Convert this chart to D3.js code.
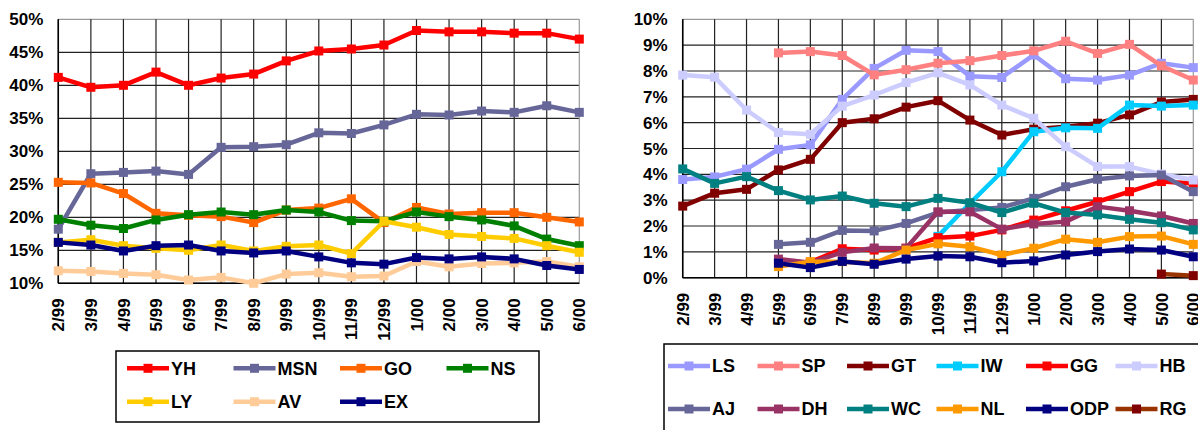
<!DOCTYPE html>
<html><head><meta charset="utf-8">
<script src="https://cdn.jsdelivr.net/npm/d3@7"></script>
<style>
html,body{margin:0;padding:0;background:#fff;}
svg text{font-family:"Liberation Sans",Arial,sans-serif;font-weight:bold;fill:#000;}
</style></head>
<body>
<svg id="chart" width="1198" height="430"></svg>
<script>
const categories = ["2/99","3/99","4/99","5/99","6/99","7/99","8/99","9/99","10/99","11/99","12/99","1/00","2/00","3/00","4/00","5/00","6/00"];

// Left chart series (%)
const YH  = [41.2,39.7,40.0,42.0,40.0,41.1,41.7,43.7,45.2,45.5,46.1,48.3,48.1,48.1,47.9,47.9,47.0];
const MSN = [18.2,26.6,26.8,27.0,26.5,30.6,30.7,31.0,32.8,32.7,34.0,35.6,35.5,36.1,35.9,36.9,35.9];
const GO  = [25.3,25.2,23.6,20.6,20.3,20.1,19.2,21.1,21.4,22.8,19.2,21.5,20.5,20.7,20.7,20.0,19.3];
const NS  = [19.7,18.8,18.3,19.6,20.4,20.8,20.4,21.1,20.8,19.5,19.4,20.8,20.1,19.6,18.7,16.7,15.7];
const LY  = [16.2,16.6,15.7,15.3,15.0,15.8,14.9,15.6,15.8,14.5,19.4,18.5,17.4,17.1,16.8,15.7,14.7];
const AV  = [11.9,11.8,11.5,11.3,10.5,10.9,10.0,11.4,11.6,11.0,11.1,13.3,12.5,13.0,13.1,13.3,12.5];
const EX  = [16.2,15.8,14.9,15.7,15.8,14.9,14.6,14.9,14.0,13.1,12.9,13.9,13.7,14.0,13.7,12.7,12.1];
const leftNames  = ["YH","MSN","GO","NS","LY","AV","EX"];
const leftColors = ["#FF0000","#666699","#FF6600","#008000","#FFCC00","#FFCC99","#000080"];
const leftTicks  = [10,15,20,25,30,35,40,45,50];

// Right chart series (%)
const LS  = [3.8,3.9,4.2,4.97,5.14,6.9,8.1,8.8,8.75,7.8,7.75,8.62,7.7,7.65,7.84,8.3,8.13];
const SP  = [null,null,null,8.7,8.75,8.6,7.85,8.05,8.3,8.4,8.6,8.78,9.15,8.68,9.03,8.2,7.65];
const GT  = [2.77,3.27,3.42,4.17,4.58,6.0,6.15,6.6,6.85,6.1,5.52,5.75,5.84,5.98,6.3,6.8,6.9];
const IW  = [null,null,null,null,null,null,null,null,1.6,2.88,4.1,5.65,5.8,5.78,6.68,6.64,6.68];
const GG  = [null,null,null,null,0.6,1.12,1.07,1.14,1.55,1.61,1.85,2.23,2.59,2.94,3.33,3.72,3.65];
const HB  = [7.84,7.76,6.49,5.62,5.55,6.64,7.07,7.55,7.93,7.46,6.68,6.17,5.07,4.3,4.3,4.01,3.78];
const AJ  = [null,null,null,1.29,1.37,1.83,1.81,2.1,2.52,2.62,2.72,3.07,3.52,3.81,3.94,3.97,3.33];
const DH  = [null,null,null,0.72,0.58,0.98,1.15,1.14,2.55,2.55,1.88,2.08,2.17,2.75,2.59,2.39,2.1];
const WC  = [4.21,3.65,3.91,3.37,3.01,3.16,2.88,2.75,3.07,2.9,2.52,2.88,2.52,2.43,2.26,2.13,1.85];
const NL  = [null,null,null,0.43,0.62,0.62,0.56,1.07,1.31,1.2,0.88,1.14,1.49,1.37,1.59,1.61,1.29];
const ODP = [null,null,null,0.56,0.39,0.63,0.52,0.72,0.84,0.81,0.58,0.65,0.88,1.01,1.11,1.07,0.81];
const RG  = [null,null,null,null,null,null,null,null,null,null,null,null,null,null,null,0.14,0.08];
const rightNames  = ["LS","SP","GT","IW","GG","HB","AJ","DH","WC","NL","ODP","RG"];
const rightColors = ["#9999FF","#FF8080","#800000","#00CCFF","#FF0000","#CCCCFF","#666699","#993366","#008080","#FF9900","#000080","#993300"];
const rightMarkerColors = ["#9999FF","#FF8080","#800000","#00CCFF","#FF0000","#CCCCFF","#666699","#993366","#008080","#FF9900","#000080","#800000"];
const rightTicks = [0,1,2,3,4,5,6,7,8,9,10];

const leftData  = [YH,MSN,GO,NS,LY,AV,EX];
const rightData = [LS,SP,GT,IW,GG,HB,AJ,DH,WC,NL,ODP,RG];

const svg = d3.select("#chart");

function drawChart(opt){
  const g = svg.append("g");
  const x = d3.scalePoint().domain(categories).range([opt.x0, opt.x1]);
  const y = d3.scaleLinear().domain(opt.domain).range([opt.y1, opt.y0]);

  // horizontal grid
  g.selectAll(".hg").data(opt.ticks).join("line")
    .attr("x1", opt.x0).attr("x2", opt.x1)
    .attr("y1", d => y(d)).attr("y2", d => y(d))
    .attr("stroke", d => d === opt.domain[1] ? "#999" : "#222").attr("stroke-width", 1.2);
  // vertical grid
  g.selectAll(".vg").data(categories).join("line")
    .attr("x1", d => x(d)).attr("x2", d => x(d))
    .attr("y1", opt.y0).attr("y2", opt.y1)
    .attr("stroke", (d,i) => i === categories.length-1 ? "#999" : "#222").attr("stroke-width", 1.2);
  // axis lines
  g.append("line").attr("x1", opt.x0).attr("x2", opt.x0).attr("y1", opt.y0).attr("y2", opt.y1).attr("stroke","#000").attr("stroke-width",1.5);
  g.append("line").attr("x1", opt.x0).attr("x2", opt.x1).attr("y1", opt.y1).attr("y2", opt.y1).attr("stroke","#000").attr("stroke-width",1.5);

  // y labels
  g.selectAll(".yl").data(opt.ticks).join("text")
    .attr("x", opt.x0 - 15).attr("y", d => y(d))
    .attr("dy", "0.36em").attr("text-anchor", "end")
    .style("font-size", "17px")
    .text(d => d + "%");
  // x labels (rotated)
  g.selectAll(".xl").data(categories).join("text")
    .attr("transform", d => `translate(${x(d)},${opt.y1 + 15}) rotate(-90)`)
    .attr("dy", "0.36em").attr("text-anchor", "end")
    .style("font-size", "17px")
    .text(d => d);

  // series
  const line = d3.line().defined(v => v != null)
    .x((v,i) => x(categories[i])).y(v => y(v));
  opt.data.forEach((s, k) => {
    g.append("path").datum(s).attr("d", line)
      .attr("fill","none").attr("stroke", opt.colors[k])
      .attr("stroke-width", 4.5).attr("stroke-linejoin","round");
    g.selectAll(null).data(s.map((v,i)=>({v,i})).filter(o => o.v != null)).join("rect")
      .attr("x", o => x(categories[o.i]) - 4.5).attr("y", o => y(o.v) - 4.5)
      .attr("width", 9).attr("height", 9)
      .attr("fill", opt.markers[k]);
  });

  // legend
  const lg = svg.append("g");
  lg.append("rect").attr("x", opt.lx).attr("y", opt.ly).attr("width", opt.lw).attr("height", opt.lh)
    .attr("fill","#fff").attr("stroke","#000").attr("stroke-width",1.5);
  opt.names.forEach((n, k) => {
    const col = k % opt.cols, row = Math.floor(k / opt.cols);
    const cx = opt.lcx0 + col * opt.lcdx, cy = opt.lry[row];
    lg.append("line").attr("x1", cx).attr("x2", cx + 42).attr("y1", cy).attr("y2", cy)
      .attr("stroke", opt.colors[k]).attr("stroke-width", 4.5);
    lg.append("rect").attr("x", cx + 21 - 4.5).attr("y", cy - 4.5).attr("width", 9).attr("height", 9)
      .attr("fill", opt.markers[k]);
    lg.append("text").attr("x", cx + 44).attr("y", cy).attr("dy","0.36em")
      .style("font-size","18px").text(n);
  });
}

drawChart({
  x0: 58.3, x1: 579.3, y0: 19.3, y1: 283.3, domain: [10,50], ticks: leftTicks,
  data: leftData, colors: leftColors, markers: leftColors, names: leftNames,
  lx: 116, ly: 351, lw: 423, lh: 71, cols: 4, lcx0: 127, lcdx: 106.5, lry: [368.3, 401.7]
});
drawChart({
  x0: 682.7, x1: 1193.3, y0: 19.3, y1: 277.7, domain: [0,10], ticks: rightTicks,
  data: rightData, colors: rightColors, markers: rightMarkerColors, names: rightNames,
  lx: 664, ly: 344, lw: 560, lh: 120, cols: 6, lcx0: 668, lcdx: 89.5, lry: [366, 409]
});
</script>
</body></html>
